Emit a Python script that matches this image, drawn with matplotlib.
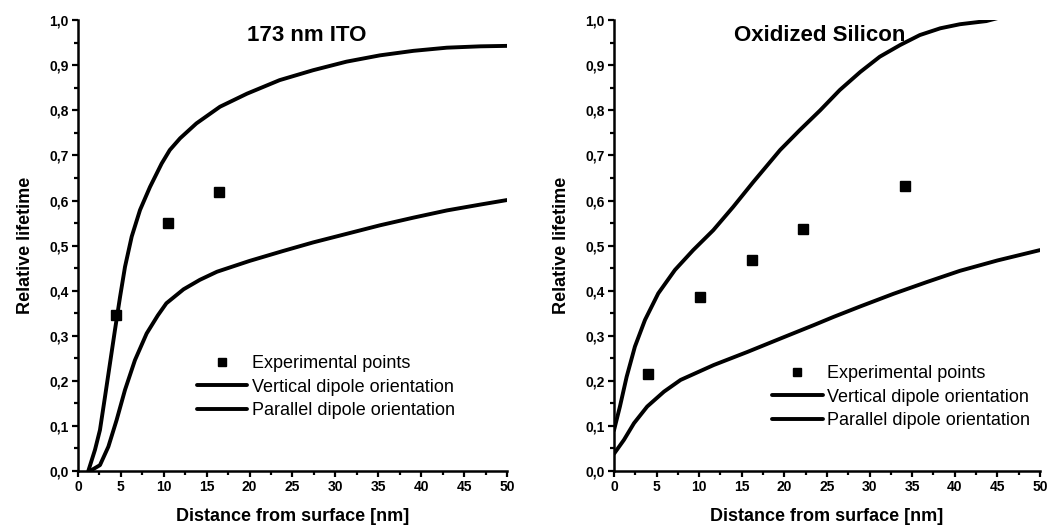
"""Relative lifetime vs distance from surface for ITO and oxidized silicon substrates."""
import matplotlib
matplotlib.use("Agg")
import matplotlib.pyplot as plt
from matplotlib.ticker import MultipleLocator, FuncFormatter

plt.rcParams["font.family"] = ["Liberation Sans", "DejaVu Sans"]

# --- 173 nm ITO ---
ito_vert_x = [1.2, 1.98, 2.56, 3.15, 3.73, 4.31, 4.9, 5.48, 6.26, 7.23, 8.39, 9.75, 10.7,
              11.9, 13.8, 16.55, 19.7, 23.5, 27.4, 31.3, 35.2, 39.1, 43.0, 46.9, 50.0]
ito_vert_y = [0.0, 0.047, 0.091, 0.165, 0.239, 0.313, 0.386, 0.453, 0.52, 0.579, 0.63, 0.682, 0.712,
              0.738, 0.771, 0.808, 0.837, 0.867, 0.889, 0.908, 0.922, 0.932, 0.939, 0.942, 0.943]
ito_par_x = [1.4, 2.56, 3.54, 4.5, 5.48, 6.64, 8.0, 9.3, 10.3, 12.3, 14.2, 16.2, 20.0,
             23.9, 27.4, 31.3, 35.2, 39.1, 43.0, 46.9, 50.0]
ito_par_y = [0.0, 0.013, 0.054, 0.113, 0.18, 0.246, 0.305, 0.345, 0.372, 0.403, 0.424, 0.442, 0.466,
             0.488, 0.507, 0.526, 0.545, 0.562, 0.578, 0.591, 0.601]
ito_exp_x = [4.4, 10.5, 16.4]
ito_exp_y = [0.346, 0.549, 0.619]

# --- oxidized silicon ---
si_vert_x = [0.0, 0.7, 1.49, 2.46, 3.64, 5.2, 7.16, 9.3, 11.65, 14.0, 16.35, 19.5, 21.8, 24.2,
             26.5, 28.9, 31.2, 33.6, 35.9, 38.3, 40.6, 43.7, 46.5, 50.0]
si_vert_y = [0.09, 0.143, 0.209, 0.276, 0.335, 0.394, 0.446, 0.49, 0.534, 0.586, 0.641, 0.712, 0.756, 0.80,
             0.845, 0.885, 0.919, 0.945, 0.967, 0.982, 0.991, 0.998, 1.012, 1.025]
si_par_x = [0.0, 1.17, 2.35, 3.9, 5.87, 7.82, 11.7, 15.65, 19.56, 23.5, 25.8, 28.9, 32.8, 36.7,
            40.6, 45.0, 50.0]
si_par_y = [0.038, 0.069, 0.106, 0.143, 0.176, 0.202, 0.235, 0.264, 0.294, 0.324, 0.342, 0.365, 0.393, 0.419,
            0.444, 0.467, 0.49]
si_exp_x = [4.0, 10.1, 16.2, 22.2, 34.1]
si_exp_y = [0.215, 0.387, 0.468, 0.536, 0.633]

panels = [
    ("173 nm ITO", ito_exp_x, ito_exp_y, ito_vert_x, ito_vert_y, ito_par_x, ito_par_y,
     [0.0745, 0.113, 0.4097, 0.849], (26.7, 0.99), (0.277, 0.186)),
    ("Oxidized Silicon", si_exp_x, si_exp_y, si_vert_x, si_vert_y, si_par_x, si_par_y,
     [0.5864, 0.113, 0.4069, 0.849], (24.2, 0.99), (0.371, 0.164)),
]

comma = FuncFormatter(lambda v, p: f"{v:.1f}".replace(".", ","))

fig = plt.figure(figsize=(10.47, 5.31), dpi=100)
for title, ex, ey, vx, vy, px, py, rect, tpos, lpos in panels:
    ax = fig.add_axes(rect)
    ax.plot(ex, ey, "s", color="black", markersize=7, label="Experimental points")
    ax.plot(vx, vy, "-", color="black", linewidth=2.8, solid_capstyle="round",
            solid_joinstyle="round", label="Vertical dipole orientation")
    ax.plot(px, py, "-", color="black", linewidth=2.8, solid_capstyle="round",
            solid_joinstyle="round", label="Parallel dipole orientation")
    ax.set_xlim(0, 50)
    ax.set_ylim(0, 1.0)
    ax.xaxis.set_major_locator(MultipleLocator(5))
    ax.xaxis.set_minor_locator(MultipleLocator(2.5))
    ax.yaxis.set_major_locator(MultipleLocator(0.1))
    ax.yaxis.set_minor_locator(MultipleLocator(0.05))
    ax.yaxis.set_major_formatter(comma)
    for side in ("top", "right"):
        ax.spines[side].set_visible(False)
    for side in ("left", "bottom"):
        ax.spines[side].set_linewidth(1.8)
    ax.tick_params(which="major", direction="out", length=4.5, width=1.6,
                   labelsize=10, pad=2)
    ax.tick_params(which="minor", direction="out", length=3, width=1.6)
    for lbl in ax.get_xticklabels() + ax.get_yticklabels():
        lbl.set_fontweight("bold")
    ax.text(tpos[0], tpos[1], title, ha="center", va="top", fontsize=16, fontweight="bold")
    ax.set_xlabel("Distance from surface [nm]", fontsize=13, fontweight="bold", labelpad=10)
    ax.set_ylabel("Relative lifetime", fontsize=13, fontweight="bold", labelpad=11)
    ax.legend(loc="center left", bbox_to_anchor=lpos, frameon=False, fontsize=13,
              handlelength=2.8, handletextpad=0.25, labelspacing=0.37,
              borderpad=0, borderaxespad=0, markerscale=0.75)

fig.savefig("out.png", dpi=100)
